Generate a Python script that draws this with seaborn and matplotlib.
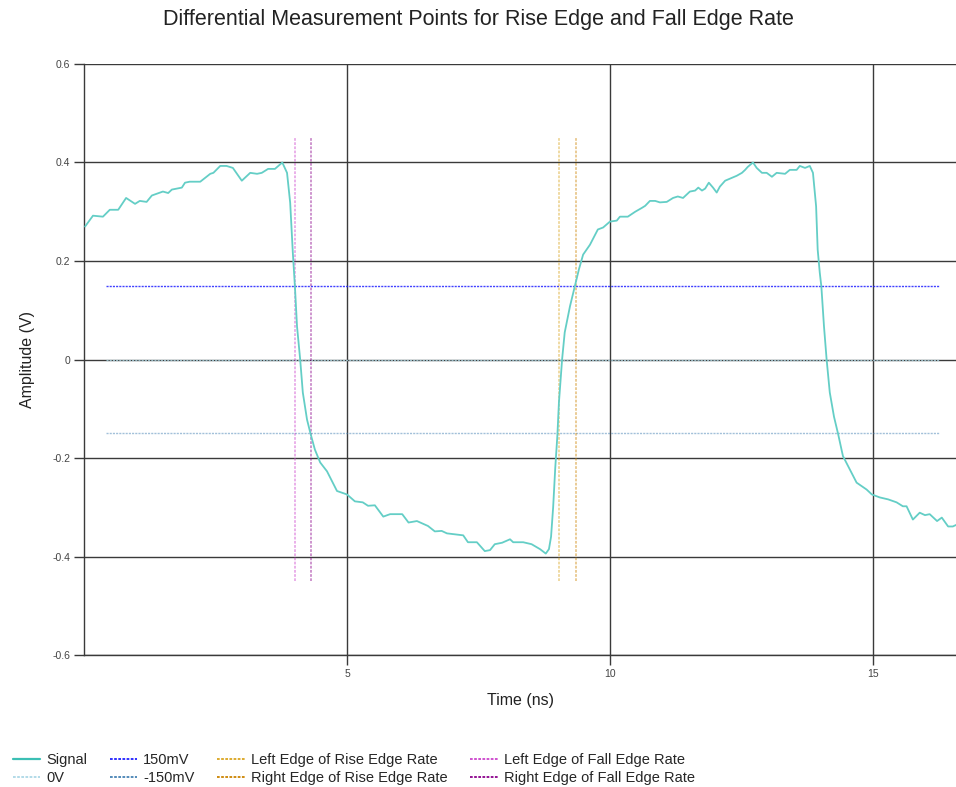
import matplotlib
matplotlib.use("Agg")
import matplotlib.pyplot as plt
from matplotlib.lines import Line2D
import seaborn as sns
import pandas as pd

# Differential signal trace (time in ns, amplitude in V)
time_ns = [0.02, 0.17, 0.36, 0.49, 0.65, 0.80, 0.97, 1.06, 1.19, 1.29, 1.50, 1.60, 1.67,
           1.86, 1.92, 2.01, 2.21, 2.40, 2.46, 2.59, 2.71, 2.83, 3.00, 3.16, 3.29, 3.38,
           3.50, 3.63, 3.77, 3.86, 3.92, 3.97, 4.01, 4.05, 4.11, 4.16, 4.24, 4.31, 4.39,
           4.49, 4.62, 4.81, 5.00, 5.15, 5.30, 5.40, 5.53, 5.69, 5.82, 6.05, 6.17, 6.33,
           6.54, 6.67, 6.80, 6.90, 7.05, 7.21, 7.30, 7.47, 7.62, 7.72, 7.81, 7.95, 8.10,
           8.16, 8.35, 8.51, 8.67, 8.78, 8.84, 8.88, 8.92, 8.96, 9.00, 9.03, 9.09, 9.14,
           9.24, 9.33, 9.41, 9.49, 9.62, 9.77, 9.87, 10.00, 10.13, 10.19, 10.34, 10.48,
           10.61, 10.67, 10.76, 10.86, 10.95, 11.08, 11.20, 11.29, 11.39, 11.52, 11.62,
           11.68, 11.75, 11.81, 11.88, 11.96, 12.03, 12.09, 12.19, 12.28, 12.41, 12.51,
           12.57, 12.62, 12.72, 12.79, 12.89, 12.98, 13.08, 13.17, 13.33, 13.42, 13.55,
           13.61, 13.71, 13.80, 13.86, 13.92, 13.95, 13.99, 14.02, 14.07, 14.12, 14.18,
           14.26, 14.34, 14.43, 14.56, 14.69, 14.88, 14.98, 15.13, 15.29, 15.45, 15.57,
           15.64, 15.76, 15.89, 15.99, 16.08, 16.22, 16.31, 16.43, 16.52, 16.60]
amplitude_v = [0.270, 0.292, 0.290, 0.304, 0.304, 0.328, 0.316, 0.322, 0.320, 0.333, 0.341,
               0.338, 0.345, 0.349, 0.359, 0.361, 0.361, 0.377, 0.379, 0.393, 0.393, 0.389,
               0.363, 0.379, 0.377, 0.379, 0.387, 0.387, 0.400, 0.379, 0.318, 0.217, 0.148,
               0.067, 0.000, -0.067, -0.122, -0.152, -0.183, -0.209, -0.227, -0.267, -0.274,
               -0.288, -0.290, -0.297, -0.296, -0.319, -0.314, -0.314, -0.331, -0.328,
               -0.338, -0.349, -0.348, -0.353, -0.355, -0.357, -0.371, -0.371, -0.389,
               -0.387, -0.375, -0.372, -0.365, -0.371, -0.371, -0.375, -0.385, -0.394,
               -0.385, -0.360, -0.300, -0.220, -0.155, -0.087, 0.000, 0.055, 0.108, 0.148,
               0.183, 0.213, 0.233, 0.264, 0.268, 0.280, 0.282, 0.290, 0.290, 0.300, 0.308,
               0.312, 0.322, 0.322, 0.319, 0.320, 0.328, 0.331, 0.328, 0.341, 0.343, 0.349,
               0.343, 0.347, 0.359, 0.349, 0.339, 0.351, 0.363, 0.367, 0.373, 0.379, 0.385,
               0.391, 0.400, 0.389, 0.379, 0.379, 0.371, 0.379, 0.377, 0.385, 0.385, 0.393,
               0.389, 0.393, 0.379, 0.311, 0.223, 0.176, 0.148, 0.067, 0.000, -0.067,
               -0.116, -0.152, -0.196, -0.223, -0.250, -0.264, -0.274, -0.280, -0.284,
               -0.290, -0.298, -0.298, -0.325, -0.311, -0.316, -0.314, -0.328, -0.321,
               -0.339, -0.339, -0.335]

# Reference levels (V) and their horizontal extent (ns)
level_names = ["150mV", "0V", "-150mV"]
level_values = [0.15, 0.0, -0.15]
level_span = [0.42, 16.25]

# Edge-rate measurement points (ns) and their vertical extent (V)
edge_names = ["Left Edge of Rise Edge Rate", "Right Edge of Rise Edge Rate",
              "Left Edge of Fall Edge Rate", "Right Edge of Fall Edge Rate"]
rise_edges = [9.03, 9.35]
fall_edges = [4.01, 4.32]
edge_span = [-0.45, 0.45]

x_ticks = [5, 10, 15]
y_ticks = [-0.6, -0.4, -0.2, 0, 0.2, 0.4, 0.6]
y_tick_labels = ["-0.6", "-0.4", "-0.2", "0", "0.2", "0.4", "0.6"]

sns.set_theme(style="white")
plt.rcParams["font.family"] = ["Liberation Sans", "DejaVu Sans"]

fig = plt.figure(figsize=(9.56, 7.87), dpi=100)
ax = fig.add_axes([0.0879, 0.1677, 1 - 0.0879, 0.9187 - 0.1677])

grid_c = "#3a3a3a"
ax.set_axisbelow(True)
ax.grid(True, color=grid_c, linewidth=1.0)

sig_color = "#64cec6"
df = pd.DataFrame({"t": time_ns, "v": amplitude_v})
sns.lineplot(data=df, x="t", y="v", ax=ax, color=sig_color, linewidth=1.3,
             estimator=None, sort=False, zorder=5)

dash = (0, (1.5, 0.8))
level_colors = {"150mV": "#2020ff", "0V": "#add8e6", "-150mV": "#4682b4"}
level_alpha = {"150mV": 0.85, "0V": 0.8, "-150mV": 0.5}
for name, val in zip(level_names, level_values):
    ax.plot(level_span, [val, val], color=level_colors[name], linestyle=dash,
            linewidth=1.0, alpha=level_alpha[name], zorder=3)

edge_colors = ["#daa520", "#cc8400", "#cc44cc", "#8b008b"]
edge_x = rise_edges + fall_edges
for x, c in zip(edge_x, edge_colors):
    ax.plot([x, x], edge_span, color=c, linestyle=dash, linewidth=1.3, alpha=0.45, zorder=4)

ax.set_xlim(0, 16.58)
ax.set_ylim(-0.6, 0.6)
ax.set_xticks(x_ticks)
ax.set_xticklabels([str(t) for t in x_ticks])
ax.set_yticks(y_ticks)
ax.set_yticklabels(y_tick_labels)
ax.tick_params(axis="both", which="major", direction="out", length=7, width=1.0,
               color=grid_c, labelsize=7.5, labelcolor="#444444", pad=3,
               bottom=True, left=True)
for side in ["top", "right"]:
    ax.spines[side].set_visible(False)
for side in ["left", "bottom"]:
    ax.spines[side].set_color(grid_c)
    ax.spines[side].set_linewidth(1.0)

ax.set_xlabel("Time (ns)", fontsize=11.5, color="#222222", labelpad=10)
ax.set_ylabel("Amplitude (V)", fontsize=11.5, color="#222222", labelpad=12)
fig.suptitle("Differential Measurement Points for Rise Edge and Fall Edge Rate",
             fontsize=15.5, color="#222222", y=0.988)

# Legend: column-major order, two entries per column
handles = [
    Line2D([], [], color="#3bbfb4", linewidth=1.6),
    Line2D([], [], color="#add8e6", linestyle=dash, linewidth=1.3),
    Line2D([], [], color="#2020ff", linestyle=dash, linewidth=1.3),
    Line2D([], [], color="#4682b4", linestyle=dash, linewidth=1.3),
    Line2D([], [], color=edge_colors[0], linestyle=dash, linewidth=1.3),
    Line2D([], [], color=edge_colors[1], linestyle=dash, linewidth=1.3),
    Line2D([], [], color=edge_colors[2], linestyle=dash, linewidth=1.3),
    Line2D([], [], color=edge_colors[3], linestyle=dash, linewidth=1.3),
]
labels = ["Signal", "0V", "150mV", "-150mV",
          edge_names[0], edge_names[1], edge_names[2], edge_names[3]]
fig.legend(handles, labels, loc="lower left", bbox_to_anchor=(0.007, -0.005), ncol=4,
           frameon=False, fontsize=10.5, handlelength=1.9, handletextpad=0.4,
           columnspacing=1.55, labelspacing=0.25, borderaxespad=0.0)

fig.savefig("out.png", dpi=100)
